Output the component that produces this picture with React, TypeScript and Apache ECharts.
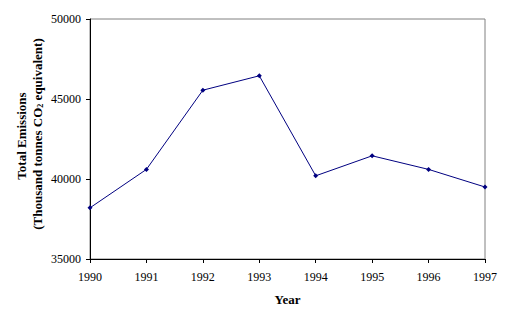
import React, { useEffect, useRef } from "react";
import * as echarts from "echarts";

const years = ["1990", "1991", "1992", "1993", "1994", "1995", "1996", "1997"];
const emissions = [38200, 40600, 45550, 46450, 40200, 41450, 40600, 39500];
const yTicks = { min: 35000, max: 50000, interval: 5000 };

export default function App() {
  const ref = useRef<HTMLDivElement>(null);
  useEffect(() => {
    if (!ref.current) return;
    const chart = echarts.init(ref.current, undefined, { renderer: "svg" });
    const font = "'Liberation Serif', 'Times New Roman', serif";
    chart.setOption({
      animation: false,
      backgroundColor: "#ffffff",
      textStyle: { fontFamily: font },
      grid: {
        left: 90,
        top: 19,
        right: 29,
        bottom: 69,
        show: true,
        borderColor: "#808080",
        borderWidth: 1,
        backgroundColor: "transparent",
      },
      xAxis: {
        type: "category",
        data: years,
        boundaryGap: false,
        name: "Year",
        nameLocation: "middle",
        nameGap: 34,
        nameTextStyle: { fontFamily: font, fontWeight: "bold", fontSize: 13, color: "#000" },
        axisLine: { lineStyle: { color: "#000", width: 1 } },
        axisTick: { show: true, length: 4, lineStyle: { color: "#000" } },
        axisLabel: { color: "#000", fontFamily: font, fontSize: 12, margin: 12 },
        splitLine: { show: false },
      },
      yAxis: {
        type: "value",
        min: yTicks.min,
        max: yTicks.max,
        interval: yTicks.interval,
        axisLine: { show: true, lineStyle: { color: "#000", width: 1 } },
        axisTick: { show: true, length: 4, lineStyle: { color: "#000" } },
        axisLabel: {
          color: "#000",
          fontFamily: font,
          fontSize: 12,
          margin: 9,
          formatter: (v: number) => String(v),
        },
        splitLine: { show: false },
      },
      graphic: [
        {
          type: "text",
          x: 21,
          y: 136,
          rotation: Math.PI / 2,
          style: {
            text: "Total Emissions",
            font: "bold 13px " + font,
            fill: "#000",
            align: "center",
            verticalAlign: "middle",
          },
        },
        {
          type: "text",
          x: 37,
          y: 134,
          rotation: Math.PI / 2,
          style: {
            text: "{a|(Thousand tonnes CO}{s|2}{a| equivalent)}",
            fill: "#000",
            align: "center",
            verticalAlign: "middle",
            rich: {
              a: { font: "bold 13px " + font, fill: "#000" },
              s: { font: "bold 8px " + font, fill: "#000", padding: [7, 0, 0, 0] },
            },
          },
        },
      ],
      series: [
        {
          type: "line",
          data: emissions,
          symbol: "diamond",
          symbolSize: 5,
          lineStyle: { color: "#000080", width: 1 },
          itemStyle: { color: "#000080" },
        },
      ],
    });
    return () => chart.dispose();
  }, []);
  return (
    <div
      ref={ref}
      style={{ position: "fixed", left: 0, top: 0, width: 514, height: 328, background: "#fff" }}
    />
  );
}
